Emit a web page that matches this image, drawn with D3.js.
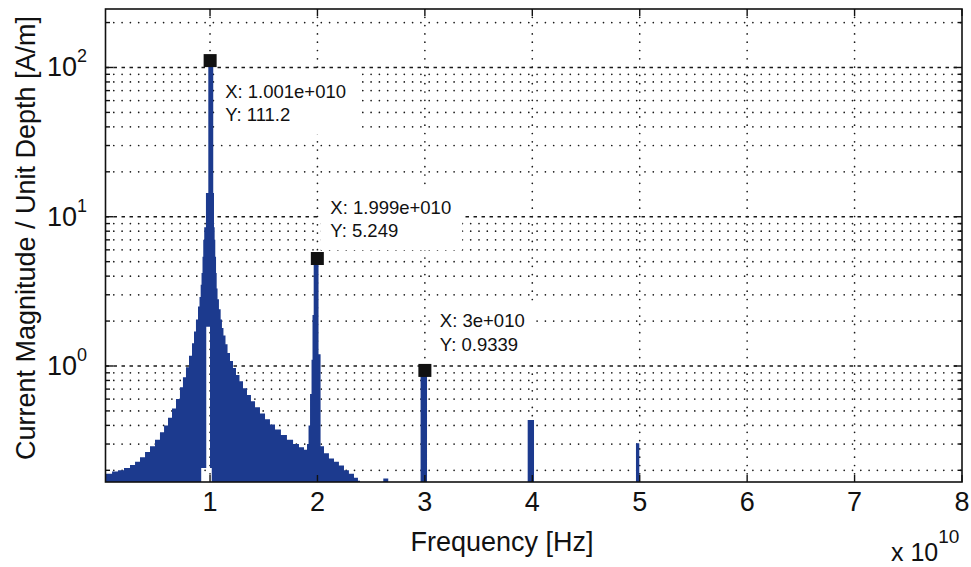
<!DOCTYPE html>
<html><head><meta charset="utf-8">
<script src="https://cdn.jsdelivr.net/npm/d3@7"></script>
<style>
html,body{margin:0;padding:0;background:#fff;}
svg{display:block;}
text{font-family:"Liberation Sans", Arial, Helvetica, sans-serif; fill:#111;}
</style></head><body>
<svg id="chart" width="971" height="567"></svg>
<script>
// ---------------- DATA ----------------
// Frequency in units of 1e10 Hz (axis multiplier "x 10^10"); each value holds until the next frequency (bars).
const freq = [
  0.027,0.088,0.143,0.199,0.255,0.302,0.348,0.395,0.441,0.488,0.534,0.572,0.609,0.646,0.683,0.720,
  0.748,0.776,0.804,0.832,0.851,0.869,0.888,0.902,0.913,0.921,0.930,0.937,0.946,0.962,0.984,
  1.030,1.037,1.043,1.049,1.056,1.062,1.070,1.083,1.099,1.111,1.125,1.144,1.163,1.186,1.214,1.242,
  1.274,1.307,1.344,1.381,1.419,1.465,1.512,1.558,1.605,1.660,1.716,1.773,1.828,1.875,
  1.903,1.917,1.931,1.945,1.954,1.965,2.010,2.029,2.061,2.107,2.154,2.200,2.247,2.293,2.340,2.377,2.396,
  2.613,2.659,2.960,3.020,3.957,4.016,4.965,4.996,8.0
];
const magnitude = [
  0.19,0.196,0.2,0.207,0.217,0.228,0.245,0.265,0.29,0.32,0.36,0.40,0.45,0.52,0.6,0.72,
  0.84,0.98,1.17,1.42,1.7,2.05,2.5,2.9,3.5,4.2,5.4,7.0,8.5,14.4,111.2,
  14.4,8.5,7.0,5.4,4.2,3.3,2.8,2.4,2.05,1.8,1.6,1.4,1.22,1.08,0.97,0.87,
  0.79,0.71,0.64,0.58,0.53,0.48,0.44,0.405,0.375,0.345,0.32,0.30,0.285,0.275,
  0.30,0.40,0.65,1.1,2.2,5.249,1.2,0.29,0.26,0.24,0.228,0.215,0.2,0.19,0.178,0.17,0.15,
  0.176,0.15,0.9339,0.15,0.435,0.15,0.304,0.15,0.15
];
// Bins near 1e10 whose bars do not reach the baseline (rendering artefact in the original)
const gapStart = [0.965, 0.918];
const gapEnd   = [1.000, 1.016];
const gapFloor = [1.83, 0.207];

// Data tips
const tipFreq = [1.001, 1.999, 3.0];
const tipMag  = [111.2, 5.249, 0.9339];
const tipTextX = ["X: 1.001e+010", "X: 1.999e+010", "X: 3e+010"];
const tipTextY = ["Y: 111.2", "Y: 5.249", "Y: 0.9339"];

const xTicks = [1,2,3,4,5,6,7,8];
const xTickLabels = ["1","2","3","4","5","6","7","8"];
const yMajorTicks = [1, 10, 100];
const yMajorExp = ["0","1","2"];
const xLabel = "Frequency [Hz]";
const yLabel = "Current Magnitude / Unit Depth [A/m]";
const xMultBase = "x 10", xMultExp = "10";
const xDomain = [0.027, 8];
const yDomain = [0.167, 246.5];

// ---------------- LAYOUT ----------------
const L = 105.5, R = 962, T = 9, B = 482;
const svg = d3.select("#chart");
const x = d3.scaleLinear().domain(xDomain).range([L, R]);
const y = d3.scaleLog().domain(yDomain).range([B, T]).clamp(true);
const barColor = "#1c3a8e";

svg.append("rect").attr("width",971).attr("height",567).attr("fill","#fff");
svg.append("defs").append("clipPath").attr("id","clip")
  .append("rect").attr("x",L).attr("y",T).attr("width",R-L).attr("height",B-T);

const plot = svg.append("g").attr("clip-path","url(#clip)");

// grid
const yGrid = y.ticks();
plot.append("g").selectAll("line").data(yGrid).join("line")
  .attr("x1",L).attr("x2",R).attr("y1",d=>y(d)).attr("y2",d=>y(d))
  .attr("stroke","#1a1a1a")
  .attr("stroke-width", d => Math.abs(Math.log10(d)-Math.round(Math.log10(d)))<1e-9 ? 1.5 : 1.7)
  .attr("stroke-linecap", d => Math.abs(Math.log10(d)-Math.round(Math.log10(d)))<1e-9 ? "butt" : "round")
  .attr("stroke-dasharray", d => Math.abs(Math.log10(d)-Math.round(Math.log10(d)))<1e-9 ? "3.5,4.5" : "0,8.3");
plot.append("g").selectAll("line").data(xTicks.filter(t=>t<xDomain[1])).join("line")
  .attr("x1",d=>x(d)).attr("x2",d=>x(d)).attr("y1",T).attr("y2",B)
  .attr("stroke","#1a1a1a").attr("stroke-width",1.7).attr("stroke-linecap","round")
  .attr("stroke-dasharray","0,8.3");

// tip background boxes (placeholder, sized after text)
const tipBoxG = plot.append("g");

// spectrum bars as one stepped area
const edges = Array.from(new Set([...freq, ...gapStart, ...gapEnd])).sort((a,b)=>a-b);
const pts = edges.map(f => {
  const i = d3.bisectRight(freq, f) - 1;
  const v = i >= 0 ? magnitude[i] : yDomain[0];
  let base = yDomain[0];
  gapStart.forEach((s,k) => { if (f >= s - 1e-9 && f < gapEnd[k] - 1e-9) base = Math.max(base, gapFloor[k]); });
  return {f, v, base};
});
const area = d3.area().curve(d3.curveStepAfter)
  .x(d => x(d.f)).y0(d => y(d.base)).y1(d => y(Math.max(d.v, d.base)));
plot.append("path").datum(pts).attr("d", area).attr("fill", barColor);

// data tip markers and texts
const tipOffsets = [{dx:15, dy:37}, {dx:13, dy:-45}, {dx:15, dy:-43}];
const tips = tipFreq.map((f,i)=>({f, v:tipMag[i], tx:tipTextX[i], ty:tipTextY[i], o:tipOffsets[i]}));
const tipG = svg.append("g");
tips.forEach(t => {
  const mx = x(t.f), my = y(t.v);
  const g = tipG.append("g");
  const t1 = g.append("text").attr("x", mx+t.o.dx).attr("y", my+t.o.dy).attr("font-size",18.5).text(t.tx);
  const t2 = g.append("text").attr("x", mx+t.o.dx).attr("y", my+t.o.dy+23.5).attr("font-size",18.5).text(t.ty);
  const b1 = t1.node().getBBox(), b2 = t2.node().getBBox();
  const x0 = Math.min(b1.x,b2.x)-10, x1 = Math.max(b1.x+b1.width,b2.x+b2.width)+11;
  const y0 = b1.y-9, y1 = b2.y+b2.height+9;
  tipBoxG.append("rect").attr("x",x0).attr("y",y0).attr("width",x1-x0).attr("height",y1-y0).attr("fill","#fff");
  tipG.append("rect").attr("x",mx-6.5).attr("y",my-6.5).attr("width",13).attr("height",13).attr("fill","#111");
});

// axes box
svg.append("rect").attr("x",L).attr("y",T).attr("width",R-L).attr("height",B-T)
  .attr("fill","none").attr("stroke","#111").attr("stroke-width",1.6);

// ticks
const tk = svg.append("g").attr("stroke","#111").attr("stroke-width",1.4);
xTicks.forEach(t => {
  tk.append("line").attr("x1",x(t)).attr("x2",x(t)).attr("y1",B).attr("y2",B-7);
  tk.append("line").attr("x1",x(t)).attr("x2",x(t)).attr("y1",T).attr("y2",T+7);
});
yGrid.forEach(v => {
  const major = yMajorTicks.includes(v);
  const len = major ? 8 : 4.5;
  tk.append("line").attr("x1",L).attr("x2",L+len).attr("y1",y(v)).attr("y2",y(v));
  tk.append("line").attr("x1",R).attr("x2",R-len).attr("y1",y(v)).attr("y2",y(v));
});

// tick labels
const axisFont = 27;
svg.append("g").selectAll("text").data(xTicks).join("text")
  .attr("x", d=>x(d)).attr("y", 511).attr("text-anchor","middle")
  .attr("font-size", axisFont).text((d,i)=>xTickLabels[i]);
yMajorTicks.forEach((v,i) => {
  const t = svg.append("text").attr("x", 87).attr("y", y(v)+9).attr("text-anchor","end").attr("font-size",axisFont);
  t.append("tspan").text("10");
  t.append("tspan").attr("dy",-14).attr("font-size",18).text(yMajorExp[i]);
});

// axis labels
svg.append("text").attr("x", 502).attr("y", 551).attr("text-anchor","middle").attr("font-size",axisFont).text(xLabel);
svg.append("text").attr("transform","translate(35,238) rotate(-90)").attr("text-anchor","middle")
  .attr("font-size",axisFont).text(yLabel);
const xm = svg.append("text").attr("x", 891).attr("y", 561).attr("font-size",axisFont-2);
xm.append("tspan").text(xMultBase);
xm.append("tspan").attr("dy",-18).attr("font-size",19).text(xMultExp);
</script>
</body></html>
